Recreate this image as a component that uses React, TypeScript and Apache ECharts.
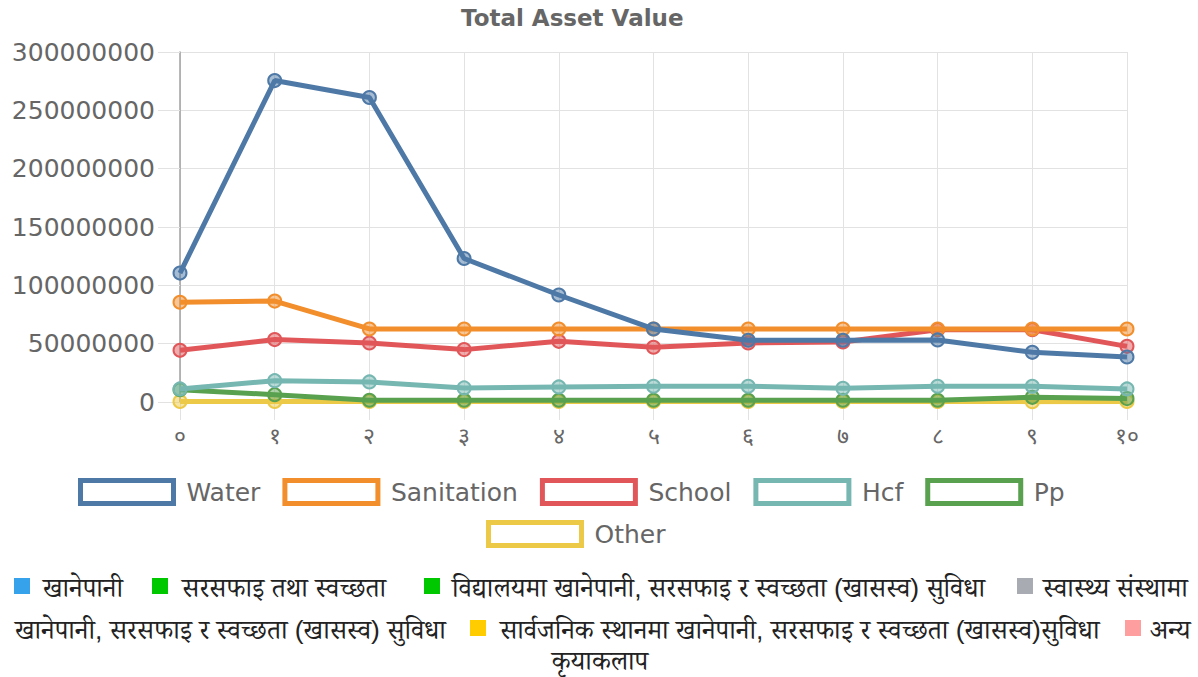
import React, { useEffect, useRef } from "react";
import * as echarts from "echarts";

const categories = ["०", "१", "२", "३", "४", "५", "६", "७", "८", "९", "१०"];
const seriesNames = ["Water", "Sanitation", "School", "Hcf", "Pp", "Other"];
const seriesColors = ["#4e79a7", "#f28e2b", "#e15759", "#76b7b2", "#59a14f", "#edc948"];

const waterValues = [110500000, 275500000, 261000000, 123000000, 91700000, 62600000, 52900000, 52900000, 53200000, 42600000, 38600000];
const sanitationValues = [85500000, 86500000, 62600000, 62600000, 62600000, 62600000, 62600000, 62600000, 62600000, 62600000, 62600000];
const schoolValues = [44300000, 53500000, 50600000, 44900000, 52000000, 46900000, 50600000, 51500000, 62000000, 62000000, 47700000];
const hcfValues = [11200000, 18300000, 17200000, 12100000, 12900000, 13500000, 13500000, 11700000, 13500000, 13500000, 11200000];
const ppValues = [10500000, 6300000, 1500000, 1500000, 1500000, 1500000, 1500000, 1500000, 1500000, 4000000, 2900000];
const otherValues = [500000, 500000, 500000, 500000, 500000, 500000, 500000, 500000, 500000, 300000, 500000];

const yTicks = { min: 0, max: 300000000, interval: 50000000 };

const noteLabels = [
  "खानेपानी",
  "सरसफाइ तथा स्वच्छता",
  "विद्यालयमा खानेपानी, सरसफाइ र स्वच्छता (खासस्व) सुविधा",
  "स्वास्थ्य संस्थामा खानेपानी, सरसफाइ र स्वच्छता (खासस्व) सुविधा",
  "सार्वजनिक स्थानमा खानेपानी, सरसफाइ र स्वच्छता (खासस्व)सुविधा",
  "अन्य कृयाकलाप",
];
const noteColors = ["#36a2eb", "#00c800", "#00c800", "#a9abb3", "#ffcc00", "#ff9e9e"];

const allValues = [waterValues, sanitationValues, schoolValues, hcfValues, ppValues, otherValues];

function hexAlpha(hex: string, a: number) {
  const r = parseInt(hex.slice(1, 3), 16);
  const g = parseInt(hex.slice(3, 5), 16);
  const b = parseInt(hex.slice(5, 7), 16);
  return `rgba(${r},${g},${b},${a})`;
}

const SANS = "DejaVu Sans";
const NOTE_FONT = "26.5px 'Liberation Sans', 'Noto Serif Devanagari', serif";

export default function App() {
  const ref = useRef<HTMLDivElement>(null);
  useEffect(() => {
    if (!ref.current) return;
    const chart = echarts.init(ref.current, undefined, { renderer: "svg" });

    const series = seriesNames.map((name, i) => ({
      name,
      type: "line",
      data: allValues[i],
      z: 10 - i,
      symbol: "circle",
      symbolSize: 13,
      lineStyle: { color: seriesColors[i], width: 5 },
      itemStyle: { color: hexAlpha(seriesColors[i], 0.5), borderColor: seriesColors[i], borderWidth: 2 },
      emphasis: { disabled: true },
    }));

    const l3 = noteLabels[3];
    const l3a = "स्वास्थ्य संस्थामा";
    const l3b = l3.slice(l3a.length + 1);
    const l5 = noteLabels[5].split(" ");
    const y1 = 586, y2 = 628, y3 = 661;
    const sq = (x: number, y: number, c: string) => ({
      type: "rect",
      shape: { x, y: y - 8, width: 16, height: 16 },
      style: { fill: c },
      silent: true,
    });
    const tx = (x: number, y: number, t: string, align = "left") => ({
      type: "text",
      x,
      y,
      style: { text: t, font: NOTE_FONT, fill: "#222", align, verticalAlign: "middle", lineHeight: 20 },
      silent: true,
    });
    const graphic = [
      sq(14, y1, noteColors[0]), tx(43, y1 + 2, noteLabels[0]),
      sq(152, y1, noteColors[1]), tx(182, y1 + 2, noteLabels[1]),
      sq(424, y1, noteColors[2]), tx(452, y1 + 2, noteLabels[2]),
      sq(1017, y1, noteColors[3]), tx(1043, y1 + 2, l3a),
      tx(15, y2 + 2, l3b),
      sq(470, y2, noteColors[4]), tx(500, y2 + 2, noteLabels[4]),
      sq(1125, y2, noteColors[5]), tx(1150, y2 + 2, l5[0]),
      tx(600, y3, l5[1], "center"),
    ];

    const legendText = { fontFamily: SANS, fontSize: 25, color: "#666", padding: [0, 0, 0, 8] };
    const legendItem = (name: string) => {
      const i = seriesNames.indexOf(name);
      return { name, itemStyle: { color: "#ffffff", borderColor: seriesColors[i], borderWidth: 5 } };
    };

    chart.setOption({
      animation: false,
      title: {
        text: "Total Asset Value",
        left: 461,
        top: 6,
        padding: 0,
        textStyle: { fontFamily: SANS, fontSize: 23, fontWeight: "bold", color: "#666" },
      },
      legend: [
        {
          data: seriesNames.slice(0, 5).map(legendItem),
          left: 78,
          top: 478,
          icon: "rect",
          itemWidth: 93,
          itemHeight: 23,
          itemGap: 22,
          padding: 0,
          selectedMode: false,
          textStyle: legendText,
        },
        {
          data: seriesNames.slice(5).map(legendItem),
          left: 486,
          top: 520,
          icon: "rect",
          itemWidth: 93,
          itemHeight: 23,
          padding: 0,
          selectedMode: false,
          textStyle: legendText,
        },
      ],
      grid: { left: 180, right: 71, top: 52, bottom: 275, containLabel: false },
      xAxis: {
        type: "category",
        data: categories,
        boundaryGap: false,
        axisLine: { show: true, lineStyle: { color: "#e0e0e0", width: 1 } },
        axisTick: { show: true, length: 18, lineStyle: { color: "#e2e2e2" } },
        splitLine: { show: true, lineStyle: { color: "#e2e2e2", width: 1 } },
        axisLabel: { fontFamily: SANS, fontSize: 23, color: "#666", margin: 22 },
      },
      yAxis: {
        type: "value",
        min: yTicks.min,
        max: yTicks.max,
        interval: yTicks.interval,
        axisLine: { show: true, lineStyle: { color: "#a0a0a0", width: 1.5 } },
        axisTick: { show: true, length: 22, lineStyle: { color: "#e2e2e2" } },
        splitLine: { show: true, lineStyle: { color: "#e2e2e2", width: 1 } },
        axisLabel: { fontFamily: SANS, fontSize: 25, color: "#666", margin: 25, formatter: (v: number) => String(v) },
      },
      series,
      graphic,
    });
    return () => chart.dispose();
  }, []);
  return <div ref={ref} style={{ position: "fixed", left: 0, top: 0, width: 1198, height: 677, background: "#fff" }} />;
}
